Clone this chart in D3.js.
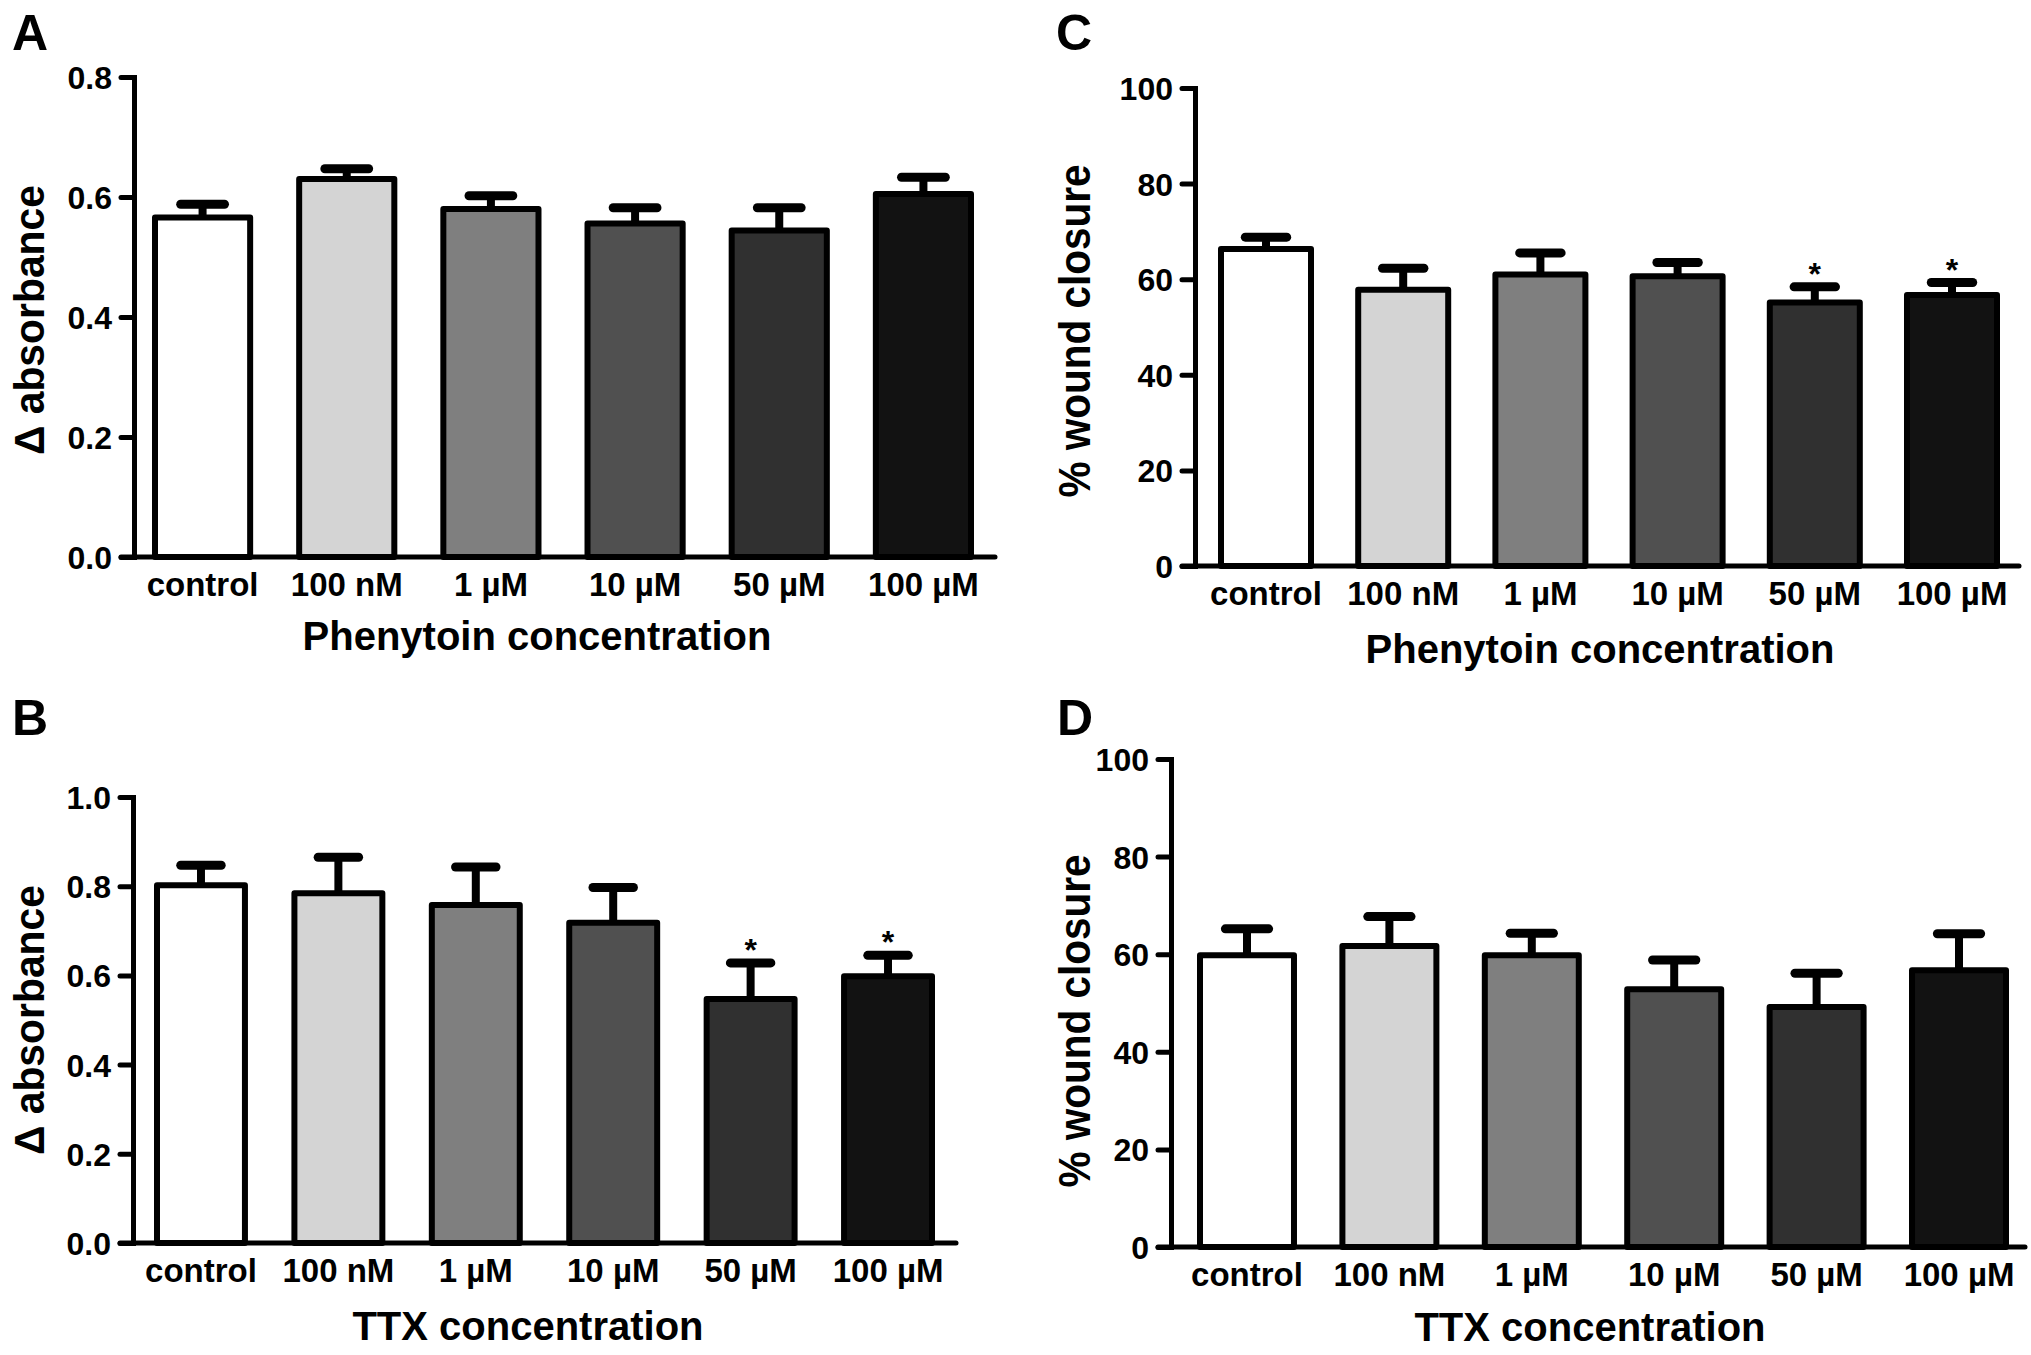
<!DOCTYPE html>
<html>
<head>
<meta charset="utf-8">
<script src="https://cdn.jsdelivr.net/npm/d3@7"></script>
<style>
  body { margin: 0; background: #fff; overflow: hidden; }
  svg { display: block; }
  svg text { font-family: "Liberation Sans", Arial, Helvetica, sans-serif; font-weight: bold; fill: #000; }
</style>
</head>
<body>
<svg id="fig" width="2031" height="1355"></svg>
<script>
// categories and bar fills shared by all four panels
var categories = ["control", "100 nM", "1 µM", "10 µM", "50 µM", "100 µM"];
var barFills = ["#ffffff", "#d4d4d4", "#7f7f7f", "#505050", "#303030", "#121212"];

// A: phenytoin, delta absorbance
var absPhenytoinMean = [0.566, 0.630, 0.580, 0.556, 0.544, 0.605];
var absPhenytoinSem  = [0.022, 0.017, 0.022, 0.026, 0.038, 0.028];
var absPhenytoinSig  = [false, false, false, false, false, false];
var absPhenytoinTicks = [0, 0.2, 0.4, 0.6, 0.8];

// B: TTX, delta absorbance
var absTtxMean = [0.802, 0.784, 0.758, 0.718, 0.547, 0.598];
var absTtxSem  = [0.045, 0.081, 0.085, 0.079, 0.081, 0.047];
var absTtxSig  = [false, false, false, false, true, true];
var absTtxTicks = [0, 0.2, 0.4, 0.6, 0.8, 1.0];

// C: phenytoin, % wound closure
var woundPhenytoinMean = [66.3, 57.8, 61.0, 60.6, 55.1, 56.7];
var woundPhenytoinSem  = [2.5, 4.5, 4.5, 2.9, 3.3, 2.6];
var woundPhenytoinSig  = [false, false, false, false, true, true];

// D: TTX, % wound closure
var woundTtxMean = [59.8, 61.7, 59.8, 52.8, 49.2, 56.7];
var woundTtxSem  = [5.4, 6.0, 4.5, 6.0, 6.9, 7.5];
var woundTtxSig  = [false, false, false, false, false, false];

var woundTicks = [0, 20, 40, 60, 80, 100];

var svg = d3.select("#fig");

var panels = [
  {letter: "A", lx: 12, ly: 50, mean: absPhenytoinMean, sem: absPhenytoinSem, sig: absPhenytoinSig,
   ticks: absPhenytoinTicks, fmt: d3.format(".1f"),
   axisX: 134, axisRight: 995, topY: 77, zeroY: 557, barLeft: 155, barRight: 971, gap: 0.34,
   yTitle: "Δ absorbance", ytX: 44, ytY: 320, ytLen: 270, ytSize: 42,
   xTitle: "Phenytoin concentration", xtX: 537, xtY: 650},
  {letter: "B", lx: 12, ly: 735, mean: absTtxMean, sem: absTtxSem, sig: absTtxSig,
   ticks: absTtxTicks, fmt: d3.format(".1f"),
   axisX: 133, axisRight: 956, topY: 797, zeroY: 1243, barLeft: 157, barRight: 932, gap: 0.36,
   yTitle: "Δ absorbance", ytX: 44, ytY: 1020, ytLen: 270, ytSize: 42,
   xTitle: "TTX concentration", xtX: 528, xtY: 1340},
  {letter: "C", lx: 1056, ly: 50, mean: woundPhenytoinMean, sem: woundPhenytoinSem, sig: woundPhenytoinSig,
   ticks: woundTicks, fmt: d3.format("d"),
   axisX: 1195, axisRight: 2019, topY: 88, zeroY: 566, barLeft: 1221, barRight: 1997, gap: 0.344,
   yTitle: "% wound closure", ytX: 1090, ytY: 331, ytLen: 333, ytSize: 44,
   xTitle: "Phenytoin concentration", xtX: 1600, xtY: 663},
  {letter: "D", lx: 1057, ly: 735, mean: woundTtxMean, sem: woundTtxSem, sig: woundTtxSig,
   ticks: woundTicks, fmt: d3.format("d"),
   axisX: 1171, axisRight: 2025, topY: 759, zeroY: 1247, barLeft: 1200, barRight: 2006, gap: 0.34,
   yTitle: "% wound closure", ytX: 1090, ytY: 1021, ytLen: 333, ytSize: 44,
   xTitle: "TTX concentration", xtX: 1590, xtY: 1341}
];

panels.forEach(drawPanel);

function drawPanel(p) {
  var g = svg.append("g");
  var rows = categories.map(function(c, i) {
    return {cat: c, mean: p.mean[i], sem: p.sem[i], sig: p.sig[i], fill: barFills[i]};
  });

  var x = d3.scaleBand().domain(categories).range([p.barLeft, p.barRight]).paddingInner(p.gap);
  var y = d3.scaleLinear().domain([0, d3.max(p.ticks)]).range([p.zeroY, p.topY]);
  var bw = x.bandwidth();

  // bars
  g.selectAll("rect.bar").data(rows).enter().append("rect")
    .attr("class", "bar")
    .attr("x", d => x(d.cat))
    .attr("y", d => y(d.mean))
    .attr("width", bw)
    .attr("height", d => p.zeroY - y(d.mean))
    .attr("fill", d => d.fill)
    .attr("stroke", "#000")
    .attr("stroke-width", 6)
    .attr("stroke-linejoin", "round");

  // error bars, upper half only
  g.selectAll("line.stem").data(rows).enter().append("line")
    .attr("x1", d => x(d.cat) + bw / 2).attr("x2", d => x(d.cat) + bw / 2)
    .attr("y1", d => y(d.mean)).attr("y2", d => y(d.mean + d.sem))
    .attr("stroke", "#000").attr("stroke-width", 8);
  g.selectAll("line.cap").data(rows).enter().append("line")
    .attr("x1", d => x(d.cat) + bw * 0.27).attr("x2", d => x(d.cat) + bw * 0.73)
    .attr("y1", d => y(d.mean + d.sem)).attr("y2", d => y(d.mean + d.sem))
    .attr("stroke", "#000").attr("stroke-width", 9).attr("stroke-linecap", "round");

  // significance stars
  g.selectAll("text.star").data(rows.filter(d => d.sig)).enter().append("text")
    .attr("x", d => x(d.cat) + bw / 2)
    .attr("y", d => y(d.mean + d.sem) - 2)
    .attr("text-anchor", "middle")
    .style("font-size", "32px")
    .text("*");

  // y axis
  var ya = g.append("g").attr("transform", `translate(${p.axisX},0)`)
    .call(d3.axisLeft(y).tickValues(p.ticks).tickSize(13).tickSizeOuter(0).tickPadding(9).tickFormat(p.fmt));
  ya.attr("font-family", null).attr("font-size", null);
  ya.select(".domain").attr("stroke-width", 5).attr("stroke-linecap", "square");
  ya.selectAll(".tick line").attr("stroke-width", 5).attr("stroke-linecap", "round");
  ya.selectAll(".tick text").style("font-size", "32px").attr("dy", "0.36em");

  // x axis: baseline line plus category labels
  g.append("line")
    .attr("x1", p.axisX - 13).attr("x2", p.axisRight)
    .attr("y1", p.zeroY).attr("y2", p.zeroY)
    .attr("stroke", "#000").attr("stroke-width", 5).attr("stroke-linecap", "round");
  var xa = g.append("g").attr("transform", `translate(0,${p.zeroY})`)
    .call(d3.axisBottom(x).tickSize(0).tickPadding(16));
  xa.attr("font-family", null).attr("font-size", null);
  xa.select(".domain").remove();
  xa.selectAll(".tick text").style("font-size", "33px");

  // titles
  g.append("text")
    .attr("transform", `translate(${p.ytX},${p.ytY}) rotate(-90)`)
    .attr("text-anchor", "middle")
    .attr("textLength", p.ytLen)
    .attr("lengthAdjust", "spacingAndGlyphs")
    .style("font-size", p.ytSize + "px")
    .text(p.yTitle);
  g.append("text")
    .attr("x", p.xtX).attr("y", p.xtY)
    .attr("text-anchor", "middle")
    .style("font-size", "40px")
    .text(p.xTitle);

  // panel letter
  g.append("text")
    .attr("x", p.lx).attr("y", p.ly)
    .style("font-size", "50px")
    .text(p.letter);
}
</script>
</body>
</html>
